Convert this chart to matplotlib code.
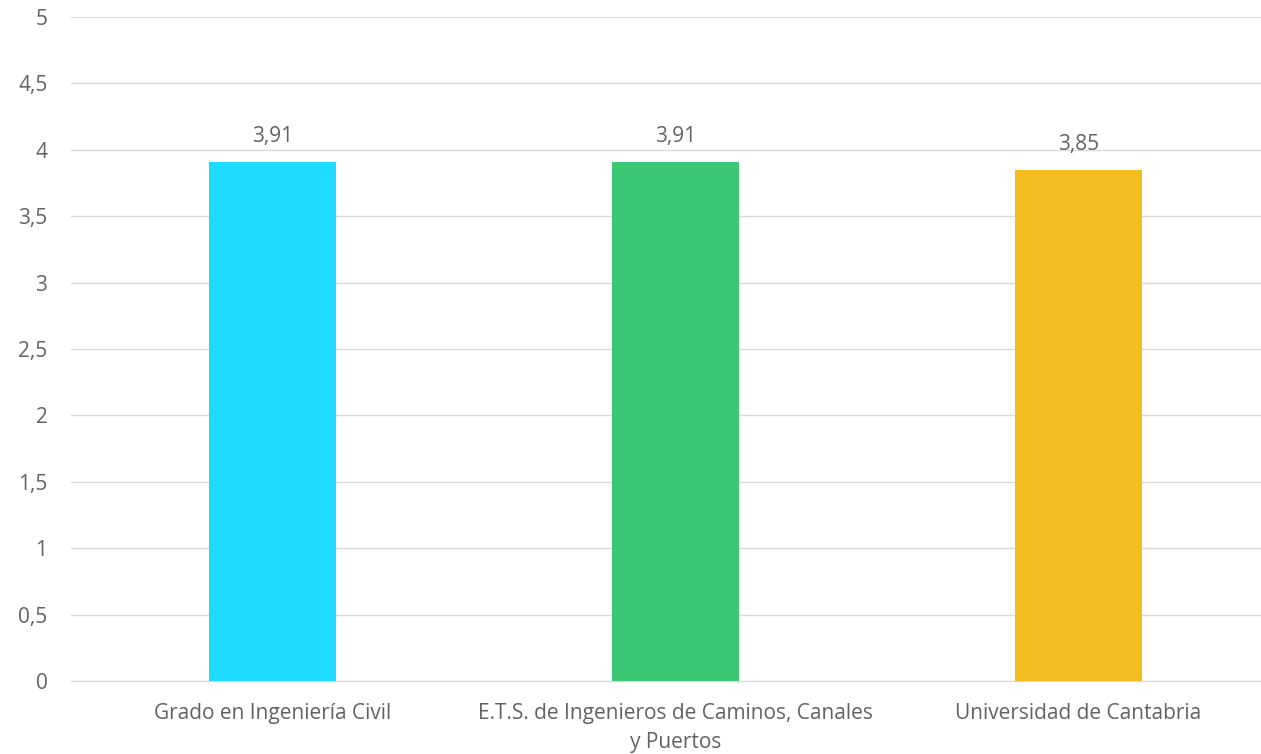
import matplotlib
matplotlib.use("Agg")
import matplotlib.pyplot as plt

categorias = ["Grado en Ingeniería Civil",
              "E.T.S. de Ingenieros de Caminos, Canales\ny Puertos",
              "Universidad de Cantabria"]
valores = [3.91, 3.91, 3.85]
etiquetas = ["3,91", "3,91", "3,85"]
colores = ["#1DDCFF", "#3CC774", "#F4BD1F"]
yticks = [0, 0.5, 1, 1.5, 2, 2.5, 3, 3.5, 4, 4.5, 5]
ytick_labels = ["0", "0,5", "1", "1,5", "2", "2,5", "3", "3,5", "4", "4,5", "5"]

plt.rcParams['font.family'] = ['Open Sans', 'DejaVu Sans']
gris = "#626262"

fig = plt.figure(figsize=(12.61, 7.54), dpi=100)
ax = fig.add_axes([71 / 1261, 1 - 681 / 754, 1190 / 1261, 664 / 754])

x = range(len(categorias))
ax.bar(x, valores, width=0.315, color=colores, zorder=3)
for xi, v, t in zip(x, valores, etiquetas):
    ax.text(xi, v + 0.11, t, ha="center", va="bottom", fontsize=15, color=gris)

ax.set_ylim(0, 5)
ax.set_xlim(-0.5, 2.453)
ax.set_yticks(yticks)
ax.set_yticklabels(ytick_labels)
ax.set_xticks(list(x))
ax.set_xticklabels(categorias, linespacing=1.5)
ax.tick_params(axis="y", length=0, pad=17, labelsize=15, labelcolor=gris)
ax.tick_params(axis="x", length=0, pad=16, labelsize=15, labelcolor=gris)

ax.yaxis.grid(True, color="#d9d9d9", linewidth=1, zorder=0)
for s in ["top", "right", "left"]:
    ax.spines[s].set_visible(False)
ax.spines["bottom"].set_color("#d9d9d9")

fig.savefig("out.png", dpi=100)
